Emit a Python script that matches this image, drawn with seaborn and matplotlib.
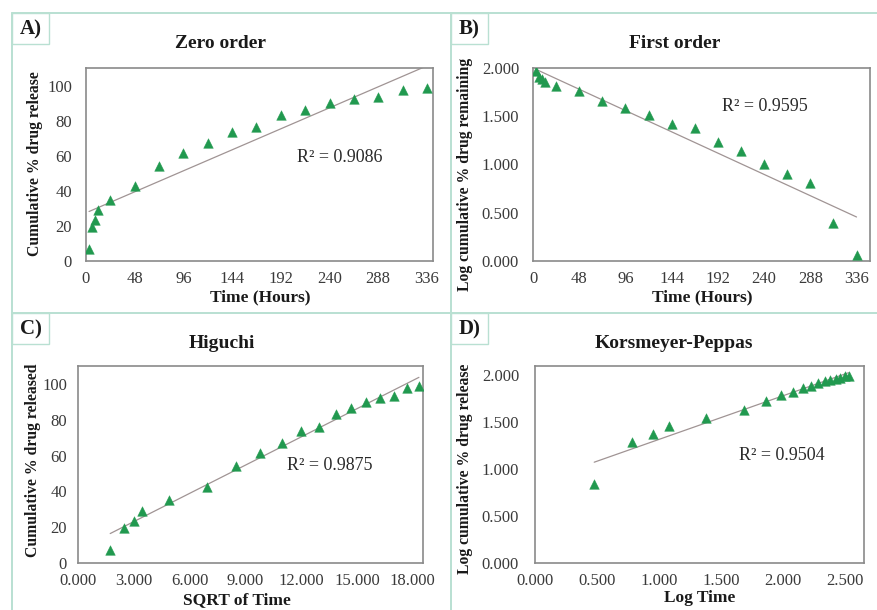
import numpy as np
import pandas as pd
import matplotlib
matplotlib.use("Agg")
import matplotlib.pyplot as plt
from matplotlib.patches import Rectangle
from matplotlib.lines import Line2D
from matplotlib.ticker import FormatStrFormatter
import seaborn as sns

# ---- data ----
time_h = [3, 6, 9, 12, 24, 48, 72, 96, 120, 144, 168, 192, 216, 240, 264, 288, 312, 336]
cum_release = [7.0, 19.5, 23.5, 29.0, 35.0, 42.5, 54.0, 61.3, 67.2, 73.8, 76.2, 83.0,
               86.3, 89.9, 92.1, 93.5, 97.5, 98.85]
log_remaining = [1.969, 1.906, 1.884, 1.851, 1.813, 1.760, 1.663, 1.588, 1.516, 1.418,
                 1.377, 1.230, 1.137, 1.004, 0.898, 0.813, 0.398, 0.061]
sqrt_time = [1.732, 2.449, 3.000, 3.464, 4.899, 6.928, 8.485, 9.798, 10.954, 12.000,
             12.961, 13.856, 14.697, 15.492, 16.248, 16.971, 17.664, 18.330]
log_time = [0.477, 0.778, 0.954, 1.079, 1.380, 1.681, 1.857, 1.982, 2.079, 2.158,
            2.225, 2.283, 2.334, 2.380, 2.422, 2.459, 2.494, 2.526]
log_release = [0.845, 1.290, 1.371, 1.462, 1.544, 1.628, 1.732, 1.788, 1.827, 1.868,
               1.882, 1.919, 1.936, 1.954, 1.964, 1.971, 1.989, 1.995]

panel_letters = ["A)", "B)", "C)", "D)"]
titles = ["Zero order", "First order", "Higuchi", "Korsmeyer-Peppas"]
r2_labels = ["R\u00b2 = 0.9086", "R\u00b2 = 0.9595", "R\u00b2 = 0.9875", "R\u00b2 = 0.9504"]
xlabels = ["Time (Hours)", "Time (Hours)", "SQRT of Time", "Log Time"]
ylabels = ["Cumulative % drug release", "Log cumulative % drug remaining",
           "Cumulative % drug released", "Log cumulative % drug release"]
xticks_A = [0, 48, 96, 144, 192, 240, 288, 336]
yticks_A = [0, 20, 40, 60, 80, 100]
yticks_B = [0.0, 0.5, 1.0, 1.5, 2.0]
xticks_C = [0, 3, 6, 9, 12, 15, 18]
xticks_D = [0.0, 0.5, 1.0, 1.5, 2.0, 2.5]
yticks_D = [0.0, 0.5, 1.0, 1.5, 2.0]

sns.set_theme(style="white")
plt.rcParams['font.family'] = ['Liberation Serif', 'DejaVu Serif']

W, H = 877, 610
fig = plt.figure(figsize=(W / 100, H / 100), dpi=100)
fig.patch.set_facecolor("white")

def fx(x):
    return x / W

def fy(y):
    return 1 - y / H

def axes_px(l, r, t, b):
    return fig.add_axes([fx(l), fy(b), (r - l) / W, (b - t) / H])

GREEN = "#21994f"
LINE = "#a09494"
SPINE = "#8a8a8a"
FRAME = "#b9e0d2"

panels = [
    dict(box=(86, 433, 68, 261), x=time_h, y=cum_release, xlim=(0, 342), ylim=(0, 110),
         xt=xticks_A, yt=yticks_A, xf=None, yf=None, ypad=7),
    dict(box=(533, 870, 68, 261), x=time_h, y=log_remaining, xlim=(0, 350), ylim=(0, 2.0),
         xt=xticks_A, yt=yticks_B, xf=None, yf="%.3f", ypad=7),
    dict(box=(78, 423, 366, 563), x=sqrt_time, y=cum_release, xlim=(0, 18.55), ylim=(0, 110),
         xt=xticks_C, yt=yticks_A, xf="%.3f", yf=None, ypad=5),
    dict(box=(535, 864, 366, 563), x=log_time, y=log_release, xlim=(0, 2.65), ylim=(0, 2.1),
         xt=xticks_D, yt=yticks_D, xf="%.3f", yf="%.3f", ypad=8.5),
]

for p in panels:
    ax = axes_px(*p["box"])
    df = pd.DataFrame({"x": p["x"], "y": p["y"]})
    sns.regplot(data=df, x="x", y="y", ax=ax, scatter=False, ci=None,
                line_kws=dict(color=LINE, lw=0.9), truncate=True)
    sns.scatterplot(data=df, x="x", y="y", ax=ax, marker="^", s=48, color=GREEN,
                    edgecolor=GREEN, linewidth=0.3, zorder=3)
    ax.set_xlim(*p["xlim"])
    ax.set_ylim(*p["ylim"])
    ax.set_xticks(p["xt"])
    ax.set_yticks(p["yt"])
    if p["xf"]:
        ax.xaxis.set_major_formatter(FormatStrFormatter(p["xf"]))
    if p["yf"]:
        ax.yaxis.set_major_formatter(FormatStrFormatter(p["yf"]))
    ax.set_xlabel("")
    ax.set_ylabel("")
    for s in ax.spines.values():
        s.set_color(SPINE)
        s.set_linewidth(1.2)
        s.set_visible(True)
    ax.tick_params(axis="both", labelsize=12, labelcolor="#3a3a3a", color=SPINE,
                   length=3, width=0.8, direction="out")
    ax.tick_params(axis="x", pad=4.5)
    ax.tick_params(axis="y", pad=p["ypad"])
    ax.set_facecolor("white")

# titles, axis labels, R2 text (pixel positions)
title_pos = [(220, 43), (675, 43), (222, 344), (674, 344)]
xlabel_pos = [(260, 297), (702, 297), (237, 600), (700, 598)]
ylabel_pos = [(35, 164), (465, 174), (33, 460), (465, 469)]
r2_pos = [(340, 157), (765, 106), (330, 465), (782, 455)]
for i in range(4):
    fig.text(fx(title_pos[i][0]), fy(title_pos[i][1]), titles[i], ha="center", va="center",
             fontsize=14, fontweight="bold", color="#1a1a1a")
    fig.text(fx(xlabel_pos[i][0]), fy(xlabel_pos[i][1]), xlabels[i], ha="center", va="center",
             fontsize=12.5, fontweight="bold", color="#1a1a1a")
    fig.text(fx(ylabel_pos[i][0]), fy(ylabel_pos[i][1]), ylabels[i], ha="center", va="center",
             fontsize=11.3, fontweight="bold", rotation=90, color="#1a1a1a")
    fig.text(fx(r2_pos[i][0]), fy(r2_pos[i][1]), r2_labels[i], ha="center", va="center",
             fontsize=13, color="#2a2a2a")

# panel frames
frame_lines = [((12, 880), (13, 13)), ((12, 12), (13, 612)), ((451, 451), (13, 612)),
               ((12, 880), (313, 313))]
for xs, ys in frame_lines:
    fig.add_artist(Line2D([fx(xs[0]), fx(xs[1])], [fy(ys[0]), fy(ys[1])],
                          color=FRAME, lw=1.4, transform=fig.transFigure))

letter_boxes = [(12, 13), (451, 13), (12, 313), (451, 313)]
for (bx, by), lab in zip(letter_boxes, panel_letters):
    fig.add_artist(Rectangle((fx(bx), fy(by + 31)), 37 / W, 31 / H, transform=fig.transFigure,
                             fill=False, edgecolor=FRAME, lw=1.0))
    fig.text(fx(bx + 18.5), fy(by + 16), lab, ha="center", va="center",
             fontsize=15, fontweight="bold", color="#1a1a1a")

fig.savefig("out.png", dpi=100, facecolor="white")
